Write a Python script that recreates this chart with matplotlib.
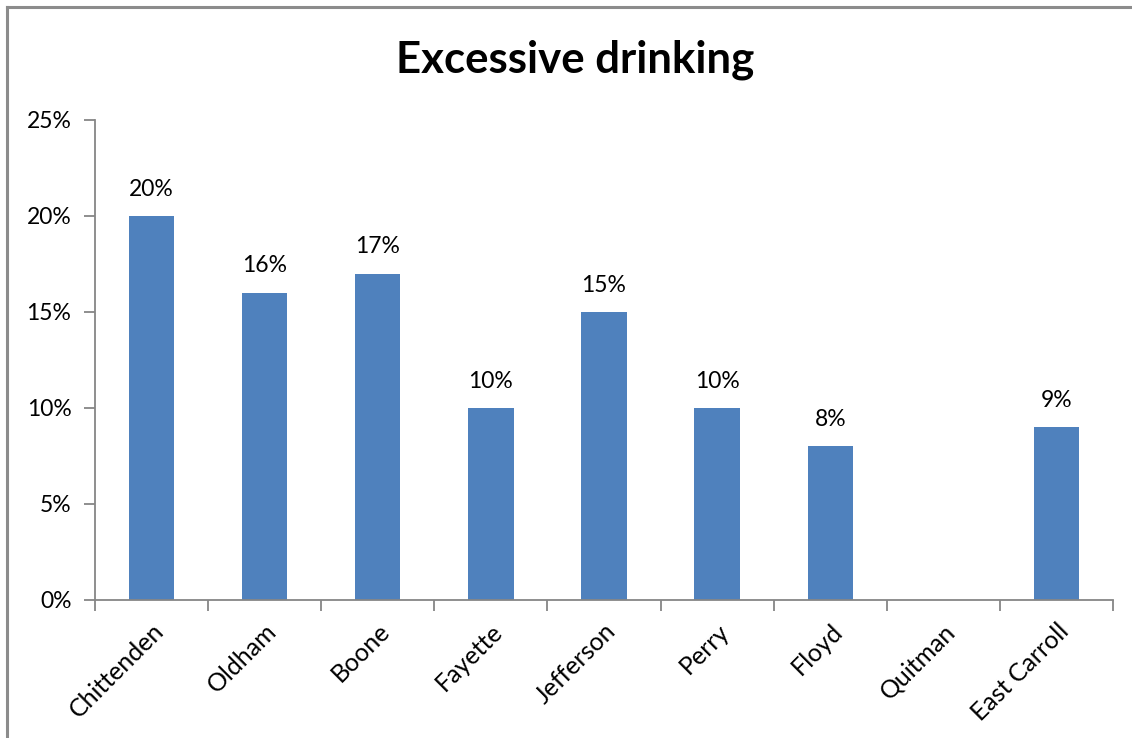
import numpy as np
import matplotlib
matplotlib.use("Agg")
import matplotlib.pyplot as plt
from matplotlib.ticker import FuncFormatter, FixedLocator, NullFormatter

plt.rcParams['font.family'] = ['Lato', 'DejaVu Sans']

counties = ["Chittenden", "Oldham", "Boone", "Fayette", "Jefferson",
            "Perry", "Floyd", "Quitman", "East Carroll"]
# percent of adults reporting excessive drinking (None = no data)
excessive_pct = [20, 16, 17, 10, 15, 10, 8, None, 9]
yticks_pct = [0, 5, 10, 15, 20, 25]

bar_color = "#4F81BD"
axis_color = "#868686"

fig = plt.figure(figsize=(11.32, 7.38), dpi=100)
ax = fig.add_axes([95 / 1132, 1 - 600 / 738, (1113 - 95) / 1132, (600 - 120) / 738])

# chart border (left and top visible)
fig.add_artist(plt.Line2D([7 / 1132, 7 / 1132], [0, 1 - 7 / 738],
                          transform=fig.transFigure, color="#8c8c8c", lw=2.2))
fig.add_artist(plt.Line2D([7 / 1132, 1], [1 - 7 / 738, 1 - 7 / 738],
                          transform=fig.transFigure, color="#8c8c8c", lw=2.2))

x = np.arange(len(counties))
for xi, v in zip(x, excessive_pct):
    if v is None:
        continue
    ax.bar(xi, v, width=0.4, color=bar_color, zorder=2)
    ax.text(xi, v + 0.85, f"{v}%", ha="center", va="bottom", fontsize=16.5, color="black")

ax.set_xlim(-0.5, len(counties) - 0.5)
ax.set_ylim(0, 25)
ax.set_yticks(yticks_pct)
ax.yaxis.set_major_formatter(FuncFormatter(lambda v, p: f"{int(v)}%"))

# category boundary ticks, labels at category centres
ax.xaxis.set_major_locator(FixedLocator(np.arange(len(counties) + 1) - 0.5))
ax.xaxis.set_major_formatter(NullFormatter())
ax.xaxis.set_minor_locator(FixedLocator(x))
ax.set_xticklabels(counties, minor=True, rotation=45, ha="right", va="top",
                   rotation_mode="anchor", fontsize=18)
ax.tick_params(axis="x", which="minor", length=0, pad=14)
ax.tick_params(axis="x", which="major", length=8, width=1.3, color=axis_color, direction="out")
ax.tick_params(axis="y", length=8, width=1.3, color=axis_color, labelsize=16.5, pad=9)

for side in ("top", "right"):
    ax.spines[side].set_visible(False)
for side in ("left", "bottom"):
    ax.spines[side].set_color(axis_color)
    ax.spines[side].set_linewidth(1.3)

fig.text(575 / 1132, 1 - 60 / 738, "Excessive drinking", ha="center", va="center",
         fontsize=31.5, fontweight="bold")

fig.savefig("out.png", dpi=100)
